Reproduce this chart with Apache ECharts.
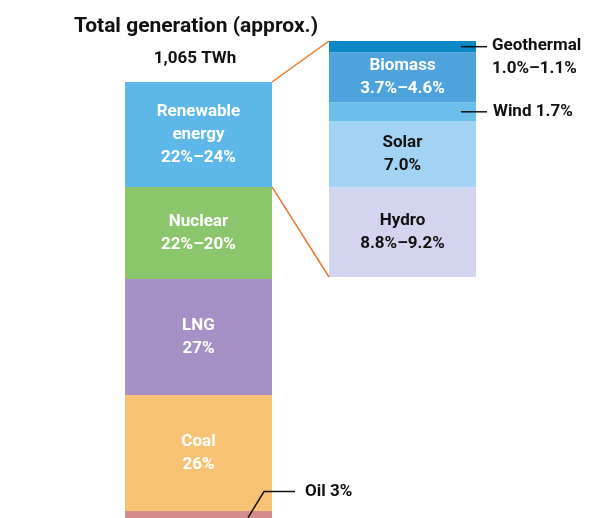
<!DOCTYPE html>
<html>
<head>
<meta charset="utf-8">
<script src="https://cdn.jsdelivr.net/npm/echarts@6/dist/echarts.min.js"></script>
<style>
  html, body { margin: 0; padding: 0; background: #fff; }
  #main { width: 616px; height: 518px; }
</style>
</head>
<body>
<div id="main"></div>
<script>
// total generation, bottom to top (share, %)
const mainNames = ["Oil", "Coal", "LNG", "Nuclear", "Renewable\nenergy"];
const mainShares = ["3%", "26%", "27%", "22%–20%", "22%–24%"];
const mainValues = [3, 27, 27, 21.4, 24.4];

// renewable breakdown, bottom to top (share, %)
const renNames = ["Hydro", "Solar", "Wind", "Biomass", "Geothermal"];
const renShares = ["8.8%–9.2%", "7.0%", "1.7%", "3.7%–4.6%", "1.0%–1.1%"];
const renValues = [9.5, 7.0, 2.0, 5.3, 1.2];

const titleText = "Total generation (approx.)";
const totalText = "1,065 TWh";

const mainColors = ["#D38D8B", "#F8C274", "#A591C5", "#8CC66C", "#5DB7E8"];
const renColors = ["#D3D4EF", "#A2D3F3", "#6CBEEA", "#4FA3DC", "#0A87C4"];
const renTextColors = ["#111", "#111", "#fff", "#fff", "#fff"];

const FONT = 'Roboto, sans-serif';
const mainTotal = mainValues.reduce((a, b) => a + b, 0);
const renTotal = renValues.reduce((a, b) => a + b, 0);

const g0 = { left: 125, width: 147, top: 82, bottom: 0 };
const g1 = { left: 329, width: 147, top: 41, height: 236 };

let chart = echarts.init(document.getElementById("main"));

let series = [];
mainNames.forEach((name, i) => {
  series.push({
    name: name,
    type: "bar",
    xAxisIndex: 0,
    yAxisIndex: 0,
    stack: "main",
    barWidth: "100%",
    data: [mainValues[i]],
    itemStyle: { color: mainColors[i] },
    label: {
      show: name !== "Oil",
      position: "inside",
      formatter: name + "\n" + mainShares[i],
      color: "#fff",
      fontFamily: FONT,
      fontWeight: "bold",
      fontSize: 17,
      lineHeight: 23,
    },
  });
});
renNames.forEach((name, i) => {
  series.push({
    name: name,
    type: "bar",
    xAxisIndex: 1,
    yAxisIndex: 1,
    stack: "ren",
    barWidth: "100%",
    data: [renValues[i]],
    itemStyle: { color: renColors[i] },
    label: {
      show: name !== "Wind" && name !== "Geothermal",
      position: "inside",
      formatter: name + "\n" + renShares[i],
      color: renTextColors[i],
      fontFamily: FONT,
      fontWeight: "bold",
      fontSize: 17,
      lineHeight: 23,
    },
  });
});

let option = {
  animation: false,
  title: [
    {
      text: titleText,
      left: 191,
      top: 11,
      textAlign: "center",
      textStyle: { fontFamily: FONT, fontWeight: "bold", fontSize: 21, color: "#111" },
    },
    {
      text: totalText,
      left: 190,
      top: 45,
      textAlign: "center",
      textStyle: { fontFamily: FONT, fontWeight: "bold", fontSize: 17, color: "#111" },
    },
  ],
  grid: [g0, g1],
  xAxis: [
    { type: "category", gridIndex: 0, data: ["total"], show: false },
    { type: "category", gridIndex: 1, data: ["renewable"], show: false },
  ],
  yAxis: [
    { type: "value", gridIndex: 0, min: 1.4, max: mainTotal, show: false, splitLine: { show: false } },
    { type: "value", gridIndex: 1, min: 0, max: renTotal, show: false, splitLine: { show: false } },
  ],
  series: series,
};
chart.setOption(option);

// connectors and leader lines, placed from the axes
let cum = (arr, n) => arr.slice(0, n).reduce((a, b) => a + b, 0);
let py0 = (v) => chart.convertToPixel({ yAxisIndex: 0 }, v);
let py1 = (v) => chart.convertToPixel({ yAxisIndex: 1 }, v);
let r0 = g0.left + g0.width;
let l1 = g1.left;
let r1 = g1.left + g1.width;

let renTop = py0(mainTotal);
let renBottom = py0(mainTotal - mainValues[4]);
let line = (x1, y1, x2, y2, color, w) => ({
  type: "line",
  shape: { x1: x1, y1: y1, x2: x2, y2: y2 },
  style: { stroke: color, lineWidth: w },
  z: 10,
});
let txt = (x, y, text) => ({
  type: "text",
  x: x,
  y: y,
  style: {
    text: text,
    font: 'bold 17px ' + FONT,
    fill: "#111",
    verticalAlign: "middle",
    lineHeight: 23,
  },
  z: 10,
});

let geoY = py1(cum(renValues, 4) + renValues[4] / 2);
let windY = py1(cum(renValues, 2) + renValues[2] / 2);
let oilY = py0(mainValues[0] / 2);

chart.setOption({
  graphic: [
    line(r0, renTop, l1, py1(renTotal), "#E8772A", 1.5),
    line(r0, renBottom, l1, py1(0), "#E8772A", 1.5),
    line(r1 - 15, geoY, r1 + 11, geoY, "#111", 1.5),
    txt(r1 + 16, geoY + 11, renNames[4] + "\n" + renShares[4]),
    line(r1 - 15, windY, r1 + 11, windY, "#111", 1.5),
    txt(r1 + 17, windY, renNames[2] + " " + renShares[2]),
    {
      type: "polyline",
      shape: { points: [[r0 - 24, oilY], [r0 - 8, oilY - 26], [r0 + 23, oilY - 26]] },
      style: { stroke: "#111", lineWidth: 1.5, fill: null },
      z: 10,
    },
    txt(r0 + 33, oilY - 26, mainNames[0] + " " + mainShares[0]),
  ],
});
</script>
</body>
</html>
